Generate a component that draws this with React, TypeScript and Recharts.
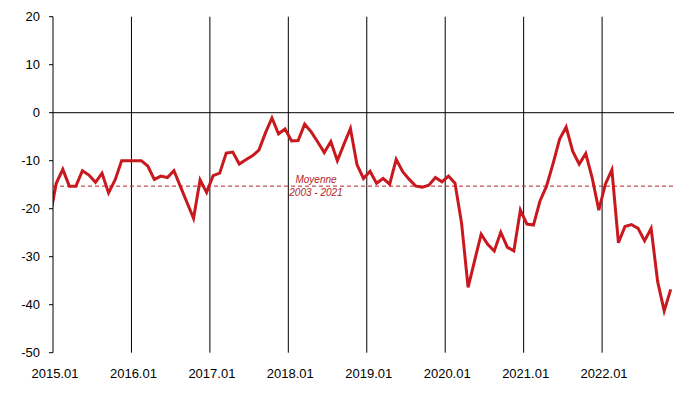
import React from "react";
import {
  LineChart,
  Line,
  XAxis,
  YAxis,
  ReferenceLine,
} from "recharts";

// monthly values, 2015.01 -> 2022.11
const leadValue = -22; // 2014.12, only its segment into the plot shows
const values = [
  -14.7, -11.8, -15.3, -15.3, -12.1, -13.0, -14.5, -12.6, -16.7, -14.0, -10.0, -10.0,
  -10.0, -10.0, -11.1, -13.9, -13.2, -13.5, -12.1, -15.4, -18.7, -22.0, -14.0, -16.6,
  -13.1, -12.6, -8.4, -8.2, -10.7, -9.8, -9.0, -7.8, -4.2, -1.1, -4.4, -3.4,
  -5.9, -5.8, -2.4, -4.0, -6.1, -8.3, -6.0, -10.0, -6.6, -3.3, -10.8, -13.7,
  -12.2, -14.7, -13.7, -14.9, -9.7, -12.3, -13.9, -15.3, -15.5, -15.1, -13.5, -14.4,
  -13.2, -14.7, -23.0, -36.4, -30.8, -25.3, -27.4, -28.8, -24.9, -28.0, -28.8, -20.3,
  -23.2, -23.4, -18.4, -15.3, -10.6, -5.5, -3.0, -8.0, -10.7, -8.5, -13.7, -20.3,
  -14.9, -11.9, -27.1, -23.7, -23.3, -24.1, -26.7, -24.1, -35.2, -41.3, -36.8,
];
const yearLabels = [
  "2015.01", "2016.01", "2017.01", "2018.01",
  "2019.01", "2020.01", "2021.01", "2022.01",
];
const yearTicks = [0, 12, 24, 36, 48, 60, 72, 84];
const yTicks = [-50, -40, -30, -20, -10, 0, 10, 20];
const average = -15.3;
const averageLabel = ["Moyenne", "2003 - 2021"];

// each month sits in the middle of its slot
const data = [
  { x: -0.5, v: leadValue },
  ...values.map((v, i) => ({ x: i + 0.5, v })),
];

const FONT = "'Liberation Sans', Arial, sans-serif";
const LINE_RED = "#C8191F";
const MEAN_RED = "#B4232B";

const MeanLabel = (props: any) => {
  const vb = props.viewBox || {};
  const cx = vb.x + vb.width * 0.4235;
  return (
    <g>
      <text x={cx} y={vb.y - 7} textAnchor="middle" dominantBaseline="central"
        fontSize={10} fontStyle="italic" fill={MEAN_RED} fontFamily={FONT}>
        {averageLabel[0]}
      </text>
      <text x={cx} y={vb.y + 6} textAnchor="middle" dominantBaseline="central"
        fontSize={10} fontStyle="italic" fill={MEAN_RED} fontFamily={FONT}>
        {averageLabel[1]}
      </text>
    </g>
  );
};

export default function App() {
  return (
    <div style={{ position: "absolute", left: 0, top: 0, background: "#fff" }}>
      <LineChart
        width={683}
        height={397}
        data={data}
        margin={{ top: 16.7, right: 9, bottom: 14.3, left: 0 }}
      >
        <XAxis
          dataKey="x"
          type="number"
          domain={[0, 95]}
          ticks={yearTicks}
          allowDataOverflow
          axisLine={false}
          tickLine={false}
          tickSize={0}
          tickMargin={16}
          height={30}
          interval={0}
          tickFormatter={(t: number) => yearLabels[yearTicks.indexOf(t)]}
          tick={{ fontSize: 13, fill: "#000", fontFamily: FONT, dx: 2 }}
        />
        <YAxis
          type="number"
          domain={[-50, 20]}
          ticks={yTicks}
          width={53}
          interval={0}
          axisLine={{ stroke: "#000" }}
          tickLine={{ stroke: "#000" }}
          tickSize={4}
          tickMargin={9}
          tick={{ fontSize: 13, fill: "#000", fontFamily: FONT }}
        />
        {yearTicks.slice(1).map((t) => (
          <ReferenceLine key={t} x={t} stroke="#000" strokeWidth={1} />
        ))}
        <ReferenceLine y={0} stroke="#000" strokeWidth={1} />
        <ReferenceLine
          y={average}
          stroke={MEAN_RED}
          strokeWidth={1}
          strokeDasharray="4 3"
          label={(p: any) => <MeanLabel {...p} />}
        />
        <Line
          type="linear"
          dataKey="v"
          stroke={LINE_RED}
          strokeWidth={3}
          dot={false}
          activeDot={false}
          isAnimationActive={false}
        />
      </LineChart>
    </div>
  );
}
